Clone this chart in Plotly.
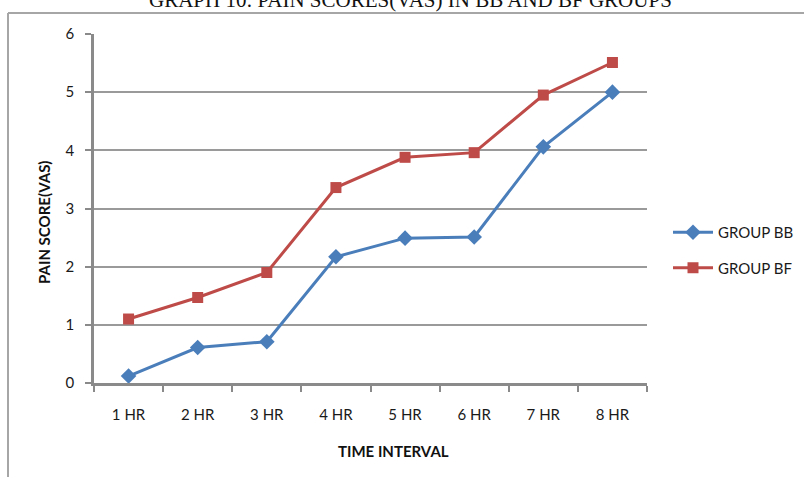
import plotly.graph_objects as go

# Time points and mean VAS pain scores for both groups
time_labels = ["1 HR", "2 HR", "3 HR", "4 HR", "5 HR", "6 HR", "7 HR", "8 HR"]
group_bb = [0.12, 0.61, 0.71, 2.17, 2.49, 2.51, 4.06, 5.00]
group_bf = [1.10, 1.47, 1.90, 3.36, 3.88, 3.96, 4.95, 5.51]

W, H = 804, 477
L, R, T, B = 94, 647, 34, 383  # plot area in pixels


def px_x(p):
    return (p - L) / (R - L)


def px_y(p):
    return (B - p) / (B - T)


fig = go.Figure()
fig.add_trace(go.Scatter(
    x=time_labels, y=group_bb, name="GROUP BB", mode="lines+markers",
    line=dict(color="#4A7EBB", width=3),
    marker=dict(symbol="diamond", size=12, color="#4A7EBB"),
    legendgroup="bb",
))
fig.add_trace(go.Scatter(
    x=time_labels, y=group_bf, name="GROUP BF", mode="lines+markers",
    line=dict(color="#BE4B48", width=3),
    marker=dict(symbol="square", size=11, color="#BE4B48"),
    legendgroup="bf",
))

tick_font = dict(family="Lato", size=15, color="#1A1A1A")
title_font = dict(family="Lato", size=15, color="#111111", weight=700)

fig.update_layout(
    width=W, height=H,
    margin=dict(l=L, r=W - R, t=T, b=H - B, autoexpand=False),
    paper_bgcolor="white", plot_bgcolor="white",
    showlegend=True,
    legend=dict(
        x=px_x(668), y=px_y(216), xanchor="left", yanchor="top",
        font=dict(family="Lato", size=15, color="#1A1A1A"),
        tracegroupgap=13, itemwidth=40,
        bgcolor="rgba(0,0,0,0)",
    ),
    xaxis=dict(
        range=[-0.5, 7.5], type="category",
        showline=True, linecolor="#8A8A8A", linewidth=2.5,
        ticks="outside", tickson="boundaries", ticklen=6,
        tickcolor="#8A8A8A", tickwidth=1.5,
        showgrid=False, tickfont=tick_font, ticklabelstandoff=16,
        fixedrange=True,
    ),
    yaxis=dict(
        range=[0, 6], dtick=1,
        showline=True, linecolor="#8A8A8A", linewidth=2.5,
        ticks="outside", ticklen=6, tickcolor="#8A8A8A", tickwidth=1.5,
        showgrid=True, gridcolor="#9A9A9A", gridwidth=1.5,
        zeroline=False, tickfont=tick_font, ticklabelstandoff=8,
        fixedrange=True,
    ),
    annotations=[
        dict(text="GRAPH 10: PAIN SCORES(VAS) IN BB AND BF GROUPS",
             xref="paper", yref="paper", x=px_x(410), y=px_y(14),
             xanchor="center", yanchor="bottom", showarrow=False,
             font=dict(family="Liberation Serif", size=21, color="#111111")),
        dict(text="TIME INTERVAL", xref="paper", yref="paper",
             x=px_x(393), y=px_y(451), xanchor="center", yanchor="middle",
             showarrow=False, font=title_font),
        dict(text="PAIN SCORE(VAS)", xref="paper", yref="paper",
             x=px_x(44), y=px_y(223), xanchor="center", yanchor="middle",
             showarrow=False, textangle=-90, font=title_font),
    ],
    shapes=[
        dict(type="line", xref="paper", yref="paper",
             x0=px_x(8), y0=px_y(13), x1=px_x(820), y1=px_y(13),
             line=dict(color="#A6A6A6", width=2)),
        dict(type="line", xref="paper", yref="paper",
             x0=px_x(8), y0=px_y(13), x1=px_x(8), y1=px_y(490),
             line=dict(color="#A6A6A6", width=2)),
    ],
)

fig.write_html("out.html")
